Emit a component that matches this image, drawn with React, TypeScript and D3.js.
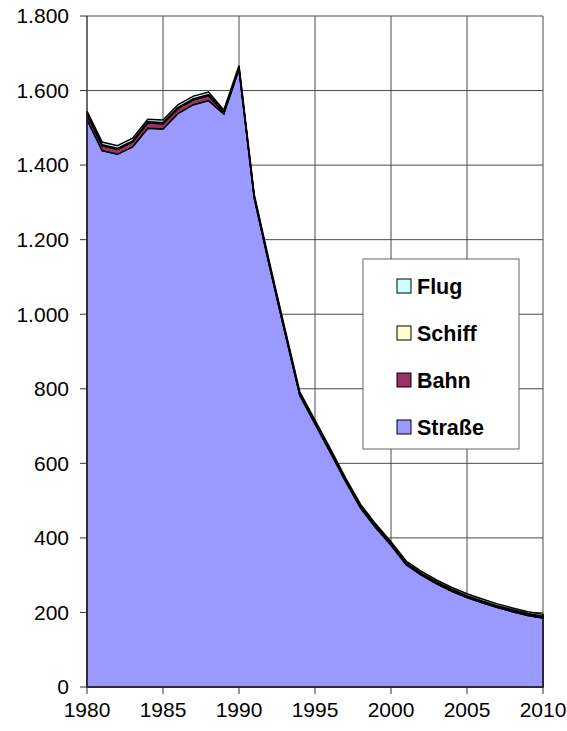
import React from "react";
import * as d3 from "d3";

const years = [1980,1981,1982,1983,1984,1985,1986,1987,1988,1989,1990,1991,1992,1993,1994,1995,1996,1997,1998,1999,2000,2001,2002,2003,2004,2005,2006,2007,2008,2009,2010];
const strasse = [1522,1439,1429,1449,1499,1497,1539,1562,1573,1537,1657,1312,1130,955,782,706,630,552,480,427,380,328,300,277,257,240,226,213,202,192,185];
const bahn = [14,13,13,13,14,14,13,13,13,4,3,3,3,3,3,3,3,3,3,3,3,3,3,3,3,3,3,3,3,3,3];
const schiff = [3,3,3,3,3,3,3,3,3,2,2,2,2,2,2,2,2,2,2,2,2,2,2,2,2,2,2,2,2,2,2];
const flug = [6,7,7,7,7,7,7,7,7,5,5,5,5,5,5,5,5,5,5,5,5,5,5,5,5,5,5,5,5,5,5];

const seriesNames = ["Straße", "Bahn", "Schiff", "Flug"];
const seriesColors = ["#9999FF", "#993366", "#FFFFCC", "#CCFFFF"];
const yTicks = [0,200,400,600,800,1000,1200,1400,1600,1800];
const xTicks = [1980,1985,1990,1995,2000,2005,2010];

const W = 567, H = 731;
const left = 87, right = 543, top = 16, bottom = 687;

export default function App() {
  const x = d3.scaleLinear().domain([1980, 2010]).range([left, right]);
  const y = d3.scaleLinear().domain([0, 1800]).range([bottom, top]);
  const rows = years.map((yr, i) => ({ year: yr, "Straße": strasse[i], "Bahn": bahn[i], "Schiff": schiff[i], "Flug": flug[i] }));
  const stack = d3.stack<any>().keys(seriesNames);
  const layers = stack(rows);
  const area = d3.area<any>()
    .x((d) => x(d.data.year))
    .y0((d) => y(d[0]))
    .y1((d) => y(d[1]));
  const fmt = (v: number) => d3.format(",")(v).replace(/,/g, ".");
  const font = "'Liberation Sans', Arial, sans-serif";
  const legendX = 363, legendY = 259, legendW = 156, legendH = 190;
  const legendItems = [3, 2, 1, 0];
  return (
    <svg width={W} height={H} style={{ position: "absolute", left: 0, top: 0, background: "#fff" }}>
      <rect x={0} y={0} width={W} height={H} fill="#fff" />
      {yTicks.map((t) => (
        <line key={"gy" + t} x1={left} x2={right} y1={y(t)} y2={y(t)} stroke="#4a4a4a" strokeWidth={1} />
      ))}
      {xTicks.map((t) => (
        <line key={"gx" + t} x1={x(t)} x2={x(t)} y1={top} y2={bottom} stroke="#4a4a4a" strokeWidth={1} />
      ))}
      {layers.map((layer, i) => (
        <path key={layer.key} d={area(layer as any) || ""} fill={seriesColors[i]} stroke="#000" strokeWidth={1.5} strokeLinejoin="miter" />
      ))}
      <line x1={left} x2={left} y1={top} y2={bottom} stroke="#333" strokeWidth={1} />
      <line x1={left} x2={right} y1={bottom} y2={bottom} stroke="#333" strokeWidth={1} />
      {yTicks.map((t) => (
        <g key={"yt" + t}>
          <line x1={left - 7} x2={left} y1={y(t)} y2={y(t)} stroke="#333" />
          <text x={69} y={y(t)} dy="0.35em" textAnchor="end" fontFamily={font} fontSize={21} fill="#000">{fmt(t)}</text>
        </g>
      ))}
      {xTicks.map((t) => (
        <g key={"xt" + t}>
          <line x1={x(t)} x2={x(t)} y1={bottom} y2={bottom + 7} stroke="#333" />
          <text x={x(t)} y={717} textAnchor="middle" fontFamily={font} fontSize={21} fill="#000">{t}</text>
        </g>
      ))}
      <rect x={legendX} y={legendY} width={legendW} height={legendH} fill="#fff" stroke="#666" strokeWidth={1} />
      {legendItems.map((si, k) => {
        const cy = 286 + k * 47;
        return (
          <g key={"lg" + si}>
            <rect x={397} y={cy - 7} width={14} height={14} fill={seriesColors[si]} stroke="#000" strokeWidth={1} />
            <text x={417} y={cy} dy="0.36em" fontFamily={font} fontSize={21.5} fontWeight="bold" fill="#000">{seriesNames[si]}</text>
          </g>
        );
      })}
    </svg>
  );
}
